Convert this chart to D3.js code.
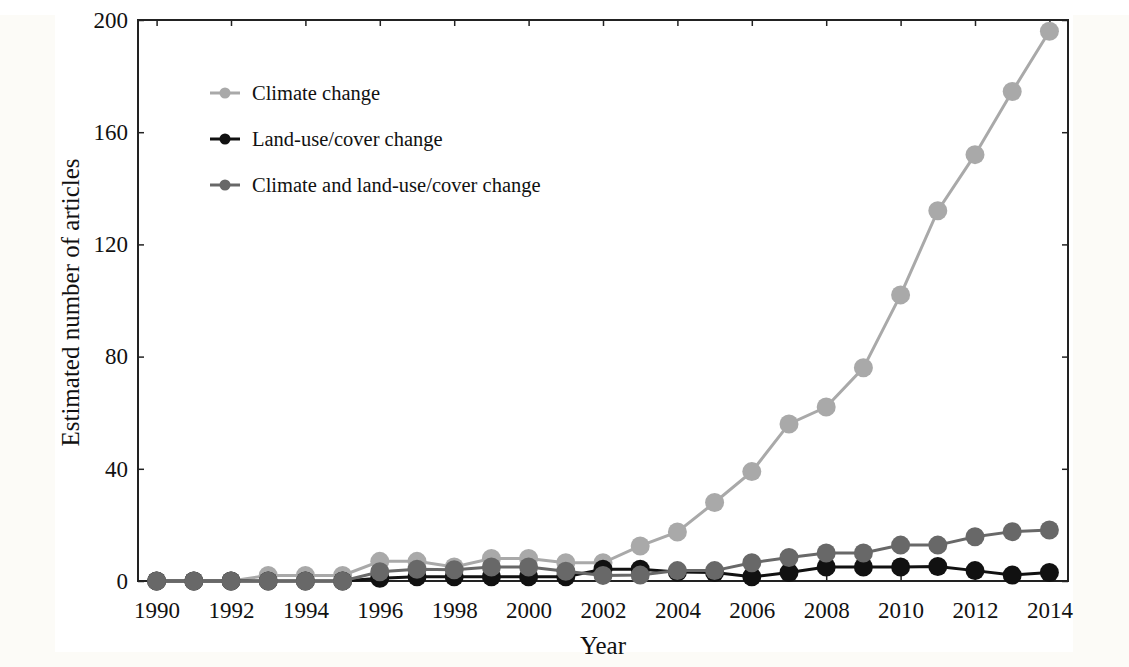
<!DOCTYPE html>
<html>
<head>
<meta charset="utf-8">
<script src="https://cdn.jsdelivr.net/npm/d3@7"></script>
<style>
  html, body { margin: 0; padding: 0; background: #fcfbf7; }
  svg { display: block; }
  text { font-family: "Liberation Serif", "Times New Roman", serif; fill: #111; }
</style>
</head>
<body>
<svg id="chart" width="1129" height="667"></svg>
<script>
const years = [1990,1991,1992,1993,1994,1995,1996,1997,1998,1999,2000,2001,2002,2003,2004,2005,2006,2007,2008,2009,2010,2011,2012,2013,2014];
const climateChange = [0,0,0,2,2,2,7,7,5,8,8,6.5,6.5,12.5,17.5,28,39,56,62,76,102,132,152,174.5,196];
const landUseChange = [0,0,0,0,0,0,1,1.5,1.5,1.5,1.5,1.5,4.2,4.2,3.2,3,1.5,3,5,5,5,5.2,3.7,2.1,3];
const climateAndLandUse = [0,0,0,0,0,0,3.3,4.2,4,5,5,3.5,2,2.1,3.7,3.7,6.5,8.4,10,10,12.8,12.8,15.8,17.6,18.2];
const seriesNames = ["Climate change", "Land-use/cover change", "Climate and land-use/cover change"];
const seriesColors = ["#a9a9a9", "#111111", "#686868"];
const xTicks = [1990,1992,1994,1996,1998,2000,2002,2004,2006,2008,2010,2012,2014];
const yTicks = [0,40,80,120,160,200];

const series = [climateChange, landUseChange, climateAndLandUse];

const svg = d3.select("#chart");
// background panels
svg.append("rect").attr("x",0).attr("y",0).attr("width",1129).attr("height",15).attr("fill","#ffffff");
svg.append("rect").attr("x",55).attr("y",0).attr("width",1018).attr("height",652).attr("fill","#ffffff");

const L = 138, R = 1068, T = 20, B = 581;
const x = d3.scaleLinear().domain([1989.5, 2014.5]).range([L, R]);
const y = d3.scaleLinear().domain([0, 200]).range([B, T]);

// axes (inward ticks)
const tickLen = 6;
svg.append("g").attr("transform", `translate(0,${B})`)
  .call(d3.axisBottom(x).tickValues(xTicks).tickFormat(d3.format("d")).tickSizeInner(-tickLen).tickSizeOuter(0).tickPadding(21))
  .call(g => g.select(".domain").remove())
  .call(g => g.selectAll("line").attr("stroke","#222").attr("stroke-width",1.5))
  .call(g => g.selectAll("text").attr("font-size",23).attr("fill","#111").attr("font-family","Liberation Serif"));
svg.append("g").attr("transform", `translate(0,${T})`)
  .call(d3.axisTop(x).tickValues(xTicks).tickFormat("").tickSizeInner(-tickLen).tickSizeOuter(0))
  .call(g => g.select(".domain").remove())
  .call(g => g.selectAll("line").attr("stroke","#222").attr("stroke-width",1.5));
svg.append("g").attr("transform", `translate(${L},0)`)
  .call(d3.axisLeft(y).tickValues(yTicks).tickSizeInner(-tickLen).tickSizeOuter(0).tickPadding(10))
  .call(g => g.select(".domain").remove())
  .call(g => g.selectAll("line").attr("stroke","#222").attr("stroke-width",1.5))
  .call(g => g.selectAll("text").attr("font-size",23).attr("fill","#111").attr("font-family","Liberation Serif"));
svg.append("g").attr("transform", `translate(${R},0)`)
  .call(d3.axisRight(y).tickValues(yTicks).tickFormat("").tickSizeInner(-tickLen).tickSizeOuter(0))
  .call(g => g.select(".domain").remove())
  .call(g => g.selectAll("line").attr("stroke","#222").attr("stroke-width",1.5));

// frame
svg.append("rect").attr("x",L).attr("y",T).attr("width",R-L).attr("height",B-T)
  .attr("fill","none").attr("stroke","#222").attr("stroke-width",2);

// series
const line = d3.line().x((d,i) => x(years[i])).y(d => y(d));
series.forEach((vals, si) => {
  const g = svg.append("g");
  g.append("path").datum(vals).attr("d", line)
    .attr("fill","none").attr("stroke", seriesColors[si]).attr("stroke-width",3);
  g.selectAll("circle").data(vals).join("circle")
    .attr("cx",(d,i) => x(years[i])).attr("cy", d => y(d)).attr("r",9.5)
    .attr("fill", seriesColors[si]);
});

// legend
const legendY = [93, 139, 185];
seriesNames.forEach((name, i) => {
  const g = svg.append("g").attr("transform", `translate(0,${legendY[i]})`);
  g.append("line").attr("x1",210).attr("x2",240).attr("y1",0).attr("y2",0)
    .attr("stroke", seriesColors[i]).attr("stroke-width",3);
  g.append("circle").attr("cx",225).attr("cy",0).attr("r",5.5).attr("fill",seriesColors[i]);
  g.append("text").attr("x",252).attr("y",7).attr("font-size",20.5).text(name);
});

// axis titles
svg.append("text").attr("x",(L+R)/2).attr("y",654).attr("text-anchor","middle")
  .attr("font-size",25).text("Year");
svg.append("text").attr("transform",`translate(79,${(T+B)/2 + 2}) rotate(-90)`)
  .attr("text-anchor","middle").attr("font-size",25).text("Estimated number of articles");
</script>
</body>
</html>
